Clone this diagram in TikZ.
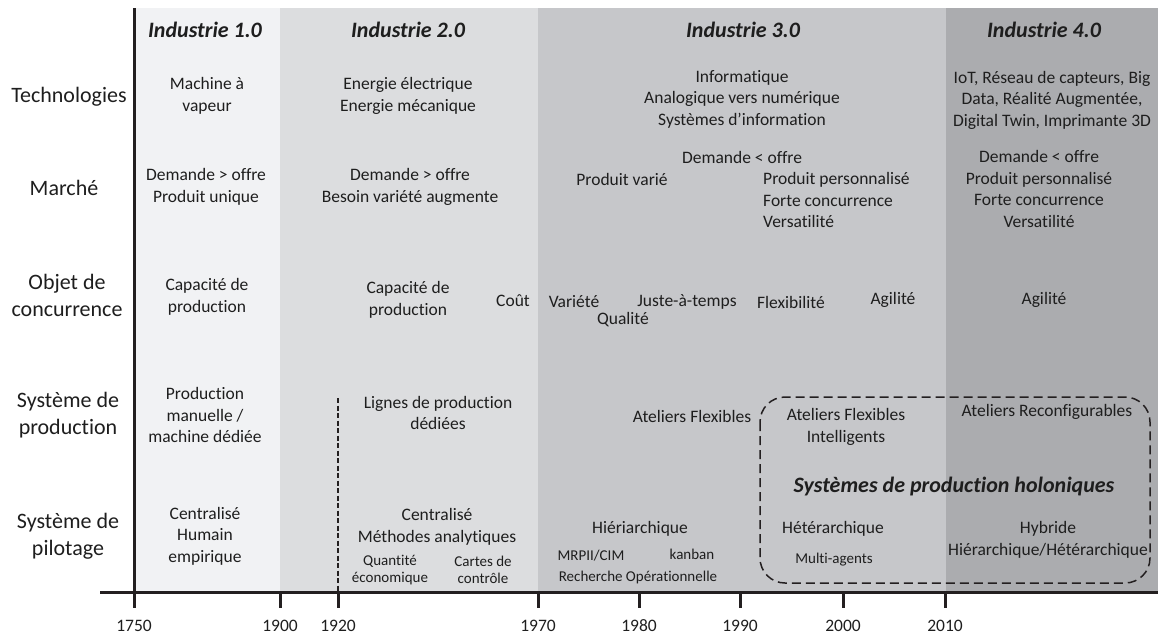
\documentclass[tikz,border=0pt]{standalone}
\usepackage{fontspec}
\setmainfont{Carlito}[Ligatures=NoCommon]
\usepackage{tikz}
\definecolor{ink}{HTML}{1E1E1E}
\definecolor{axiscol}{HTML}{231F20}
\definecolor{bandA}{HTML}{F1F2F4}
\definecolor{bandB}{HTML}{DCDDDF}
\definecolor{bandC}{HTML}{C6C7CA}
\definecolor{bandD}{HTML}{ABACAF}
\tikzset{
  cell/.style={align=center,inner sep=0pt,text=ink,font=\fontsize{17.5}{21.5}\selectfont},
  small/.style={cell,font=\fontsize{15}{17}\selectfont},
  rowlabel/.style={cell,font=\fontsize{22}{27}\selectfont},
  era/.style={cell,font=\fontsize{22}{27}\selectfont\bfseries\itshape},
  yearlabel/.style={cell,font=\fontsize{17.5}{21}\selectfont},
  axis/.style={draw=axiscol,line width=3pt},
  border1920/.style={draw=axiscol,line width=1.4pt,dash pattern=on 5pt off 2.5pt},
  holonbox/.style={draw=axiscol,line width=1.5pt,dash pattern=on 9pt off 5pt,rounded corners=25pt}
}

\begin{document}
\begin{tikzpicture}[x=1pt,y=-1pt]
\useasboundingbox (0,0) rectangle (1158,637);
% The bands
\fill[bandA] (134,8) rectangle (280,592);
\fill[bandB] (280,8) rectangle (538,592);
\fill[bandC] (538,8) rectangle (946,592);
\fill[bandD] (946,8) rectangle (1158,592);
% The axes
\draw[axis] (134,8) -- (134,608);
\draw[axis] (100,592) -- (1158,592);
% The ticks and years
\foreach \yr/\xx in {1750/134,1900/280,1920/338,1970/538,1980/639,1990/740,2000/843,2010/945}
{
  \draw[axis] (\xx,592) -- (\xx,608);
  \node[yearlabel] (y\yr) at (\xx,626) {\yr};
}
% Dashed line at 1920 and the holonic box
\draw[border1920] (338,398) -- (338,592);
\draw[holonbox] (760,397) rectangle (1150,583);

% The eras
\node[era] (era1) at (205,30) {Industrie 1.0};
\node[era] (era2) at (408,30) {Industrie 2.0};
\node[era] (era3) at (743,30) {Industrie 3.0};
\node[era] (era4) at (1044,30) {Industrie 4.0};

% The rows
\node[rowlabel] (techno) at (69,97) {Technologies};
\node[rowlabel] (marche) at (64,188) {Marché};
\node[rowlabel] (objet) at (67,295) {Objet de\\concurrence};
\node[rowlabel] (prod) at (68,415) {Système de\\production};
\node[rowlabel] (pilot) at (68,536) {Système de\\pilotage};

% Industrie 1.0
\node[cell] (techA) at (207,96) {Machine à\\vapeur};
\node[cell] (marA) at (206,187) {Demande > offre\\Produit unique};
\node[cell] (objA) at (207,297) {Capacité de\\production};
\node[cell] (prodA) at (205,415) {Production\\manuelle /\\machine dédiée};
\node[cell] (pilA) at (205,536) {Centralisé\\Humain\\empirique};

% Industrie 2.0
\node[cell] (techB) at (408,96) {Energie électrique\\Energie mécanique};
\node[cell] (marB) at (410,187) {Demande > offre\\Besoin variété augmente};
\node[cell] (objB) at (408,300) {Capacité de\\production};
\node[cell] (cout) at (513,301) {Coût};
\node[cell] (prodB) at (438,413) {Lignes de production\\dédiées};
\node[cell] (pilB) at (437,527) {Centralisé\\Méthodes analytiques};
\node[small] (quant) at (390,570) {Quantité\\économique};
\node[small] (cartes) at (483,570) {Cartes de\\contrôle};

% Industrie 3.0
\node[cell] (techC) at (742,99) {Informatique\\Analogique vers numérique\\Systèmes d’information};
\node[cell] (marC) at (742,157) {Demande < offre};
\node[cell] (varie) at (622,179) {Produit varié};
\node[cell,align=left,anchor=west] (perso) at (763,200) {Produit personnalisé\\Forte concurrence\\Versatilité};
\node[cell] (variete) at (574,302) {Variété};
\node[cell] (qualite) at (623,320) {Qualité};
\node[cell] (jat) at (687,302) {Juste-à-temps};
\node[cell] (flex) at (791,302) {Flexibilité};
\node[cell] (agilC) at (893,300) {Agilité};
\node[cell] (atflex) at (692,416) {Ateliers Flexibles};
\node[cell] (hier) at (640,529) {Hiériarchique};
\node[small] (mrp) at (591,556) {MRPII/CIM};
\node[small] (kanban) at (692,554) {kanban};
\node[small] (ro) at (638,577) {Recherche Opérationnelle};
\node[cell] (afi) at (846,427) {Ateliers Flexibles\\Intelligents};
\node[cell] (hetero) at (833,529) {Hétérarchique};
\node[small] (sma) at (834,560) {Multi-agents};

% Industrie 4.0
\node[cell] (techD) at (1052,100) {IoT, Réseau de capteurs, Big\\Data, Réalité Augmentée,\\Digital Twin, Imprimante 3D};
\node[cell] (marD) at (1039,189) {Demande < offre\\Produit personnalisé\\Forte concurrence\\Versatilité};
\node[cell] (agilD) at (1044,300) {Agilité};
\node[cell] (reconf) at (1047,412) {Ateliers Reconfigurables};
\node[cell] (hybride) at (1048,540) {Hybride\\Hiérarchique/Hétérarchique};

% The holonic systems
\node[era] (holon) at (954,487) {Systèmes de production holoniques};
\end{tikzpicture}
\end{document}
